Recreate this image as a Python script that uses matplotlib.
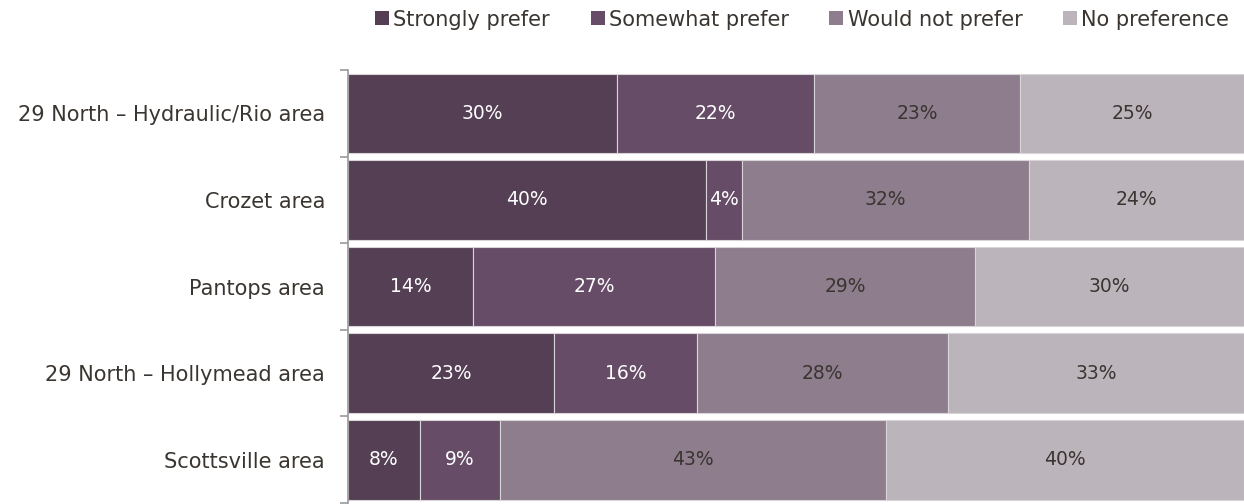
import matplotlib
matplotlib.use("Agg")
import matplotlib.pyplot as plt
import numpy as np

categories = ["29 North \u2013 Hydraulic/Rio area", "Crozet area", "Pantops area",
              "29 North \u2013 Hollymead area", "Scottsville area"]
series_names = ["Strongly prefer", "Somewhat prefer", "Would not prefer", "No preference"]
strongly = [30, 40, 14, 23, 8]
somewhat = [22, 4, 27, 16, 9]
would_not = [23, 32, 29, 28, 43]
no_pref = [25, 24, 30, 33, 40]

colors = ["#543F54", "#664C66", "#8E7D8C", "#BCB4BB"]
text_colors = ["white", "white", "#3A3530", "#3A3530"]

plt.rcParams['font.family'] = ['DejaVu Sans']

fig = plt.figure(figsize=(12.44, 5.04), dpi=100)
ax = fig.add_axes([0.2797, 0.002, 0.7203, 0.859])

y = np.arange(len(categories))
left = np.zeros(len(categories))
for name, vals, col, tc in zip(series_names, [strongly, somewhat, would_not, no_pref], colors, text_colors):
    vals = np.array(vals, dtype=float)
    ax.barh(y, vals, left=left, height=0.92, color=col, edgecolor="#D9D4D8",
            linewidth=0.8, label=name)
    for yi, l, v in zip(y, left, vals):
        ax.text(l + v / 2, yi, f"{int(v)}%", ha="center", va="center",
                color=tc, fontsize=13.5)
    left += vals

ax.set_xlim(0, 100)
ax.set_ylim(len(categories) - 0.5, -0.5)
ax.set_xticks([])
ax.set_yticks(y)
ax.set_yticklabels(categories, fontsize=15, color="#3A3530")
ax.tick_params(axis="y", which="major", length=0, pad=16.5)
ax.set_yticks(np.arange(-0.5, len(categories)), minor=True)
ax.tick_params(axis="y", which="minor", length=6, width=1.2, color="#999999")
for s in ["top", "right", "bottom"]:
    ax.spines[s].set_visible(False)
ax.spines["left"].set_color("#999999")
ax.spines["left"].set_linewidth(1.2)

leg = fig.legend(loc="upper right", bbox_to_anchor=(1.003, 1.018), ncol=4, frameon=False,
                 fontsize=15, handlelength=0.67, handleheight=0.67, handletextpad=0.2,
                 columnspacing=1.95)
for t in leg.get_texts():
    t.set_color("#3A3530")
for h in leg.legend_handles:
    h.set_edgecolor("none")

fig.savefig("out.png", dpi=100)
